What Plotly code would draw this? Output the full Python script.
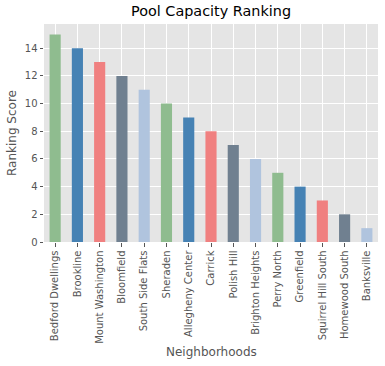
import plotly.graph_objects as go

neighborhoods = ["Bedford Dwellings", "Brookline", "Mount Washington", "Bloomfield",
                 "South Side Flats", "Sheraden", "Allegheny Center", "Carrick",
                 "Polish Hill", "Brighton Heights", "Perry North", "Greenfield",
                 "Squirrel Hill South", "Homewood South", "Banksville"]
scores = [15, 14, 13, 12, 11, 10, 9, 8, 7, 6, 5, 4, 3, 2, 1]
palette = ["#8FBC8F", "#4682B4", "#F08080", "#708090", "#B0C4DE"]
y_ticks = [0, 2, 4, 6, 8, 10, 12, 14]

colors = [palette[i % len(palette)] for i in range(len(scores))]
FONT = "DejaVu Sans"

fig = go.Figure(go.Bar(x=list(range(len(neighborhoods))), y=scores, marker=dict(color=colors, line=dict(width=0)),
                       width=0.5))

fig.update_layout(
    width=385, height=366,
    margin=dict(l=44, r=6.5, t=24, b=124),
    paper_bgcolor="white", plot_bgcolor="#E5E5E5",
    showlegend=False,
    font=dict(family=FONT, size=10, color="#555555"),
    xaxis=dict(
        range=[-0.5, len(scores) - 0.5],
        tickmode="array", tickvals=list(range(len(neighborhoods))), ticktext=neighborhoods,
        tickangle=-90, ticks="outside", ticklen=3.5, tickwidth=1, tickcolor="#555555",
        showgrid=True, gridcolor="white", gridwidth=1, zeroline=False,
        showline=False, tickfont=dict(size=10, color="#555555"), automargin=False,
    ),
    yaxis=dict(
        range=[0, 15.75],
        tickmode="array", tickvals=y_ticks, ticktext=[str(v) for v in y_ticks],
        ticks="outside", ticklen=3.5, tickwidth=1, tickcolor="#555555",
        showgrid=True, gridcolor="white", gridwidth=1, zeroline=False,
        showline=False, tickfont=dict(size=10, color="#555555"), automargin=False,
    ),
    annotations=[
        dict(text="Pool Capacity Ranking", xref="paper", yref="paper", x=0.5, y=1,
             yshift=3, xanchor="center", yanchor="bottom", showarrow=False,
             font=dict(family=FONT, size=14.4, color="black")),
        dict(text="Ranking Score", xref="paper", yref="paper", x=0, y=0.5,
             xshift=-32, xanchor="center", yanchor="middle", textangle=-90, showarrow=False,
             font=dict(family=FONT, size=12, color="#555555")),
        dict(text="Neighborhoods", xref="paper", yref="paper", x=0.5, y=0,
             yshift=-110, xanchor="center", yanchor="middle", showarrow=False,
             font=dict(family=FONT, size=12, color="#555555")),
    ],
)

fig.write_html("out.html", config={"displayModeBar": False, "staticPlot": True},
               post_script="document.body.style.margin='0';document.body.style.overflow='hidden';")
